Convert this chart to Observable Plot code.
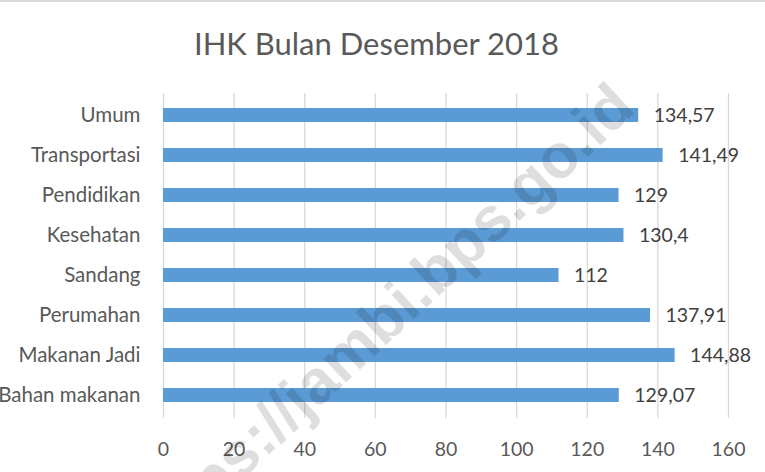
<!DOCTYPE html>
<html>
<head>
<meta charset="utf-8">
<script src="https://cdn.jsdelivr.net/npm/d3@7"></script>
<script src="https://cdn.jsdelivr.net/npm/@observablehq/plot@0.6"></script>
<style>
  html, body { margin: 0; padding: 0; background: #fff; }
  #wrap { position: relative; width: 765px; height: 472px; overflow: hidden; background: #fff; font-family: Lato, "Open Sans", sans-serif; }
  #topline { position: absolute; left: 0; top: 0; width: 765px; height: 2px; background: #d9d9d9; }
  #title { height: 80px; box-sizing: border-box; padding-top: 25px; padding-right: 12px; text-align: center; font-size: 31px; color: #595959; line-height: 36px; }
  #chart svg { display: block; }
  #wm { position: absolute; right: 121px; top: 56px; transform-origin: 100% 100%; transform: rotate(-43deg); font-family: "Liberation Sans", Arial, sans-serif; font-weight: bold; font-size: 62px; line-height: 62px; color: rgba(0,0,0,0.13); white-space: nowrap; pointer-events: none; }
</style>
</head>
<body>
<div id="wrap">
  <div id="topline"></div>
  <div id="title"></div>
  <div id="chart"></div>
  <div id="wm"></div>
</div>
<script>
const titleText = "IHK Bulan Desember 2018";
const watermark = "https://jambi.bps.go.id";
const categories = ["Umum", "Transportasi", "Pendidikan", "Kesehatan", "Sandang", "Perumahan", "Makanan Jadi", "Bahan makanan"];
const values = [134.57, 141.49, 129, 130.4, 112, 137.91, 144.88, 129.07];
const xTicks = [0, 20, 40, 60, 80, 100, 120, 140, 160];

const data = categories.map((c, i) => ({category: c, value: values[i]}));
const fmt = v => String(v).replace(".", ",");

document.getElementById("title").textContent = titleText;
document.getElementById("wm").textContent = watermark;

const chart = Plot.plot({
  width: 765,
  height: 392,
  marginTop: 13,
  marginBottom: 54,
  marginLeft: 163,
  marginRight: 37,
  style: {fontFamily: "Lato, 'Open Sans', sans-serif", fontSize: "19.5px", color: "#595959", background: "transparent"},
  x: {domain: [0, 160], ticks: xTicks, label: null},
  y: {domain: categories, paddingInner: 0.64, paddingOuter: 0.32, label: null},
  marks: [
    Plot.gridX(xTicks, {stroke: "#d9d9d9", strokeOpacity: 1, strokeWidth: 1.3}),
    Plot.barX(data, {x: "value", y: "category", fill: "#5B9BD5"}),
    Plot.text(data, {x: "value", y: "category", text: d => fmt(d.value), textAnchor: "start", dx: 15, fill: "#404040", fontSize: 19.5}),
    Plot.axisX(xTicks, {tickSize: 0, tickPadding: 24, fill: "#595959", fontSize: 19.5}),
    Plot.axisY({tickSize: 0, tickPadding: 23, fill: "#595959", fontSize: 20.5})
  ]
});
document.getElementById("chart").appendChild(chart);
</script>
</body>
</html>
